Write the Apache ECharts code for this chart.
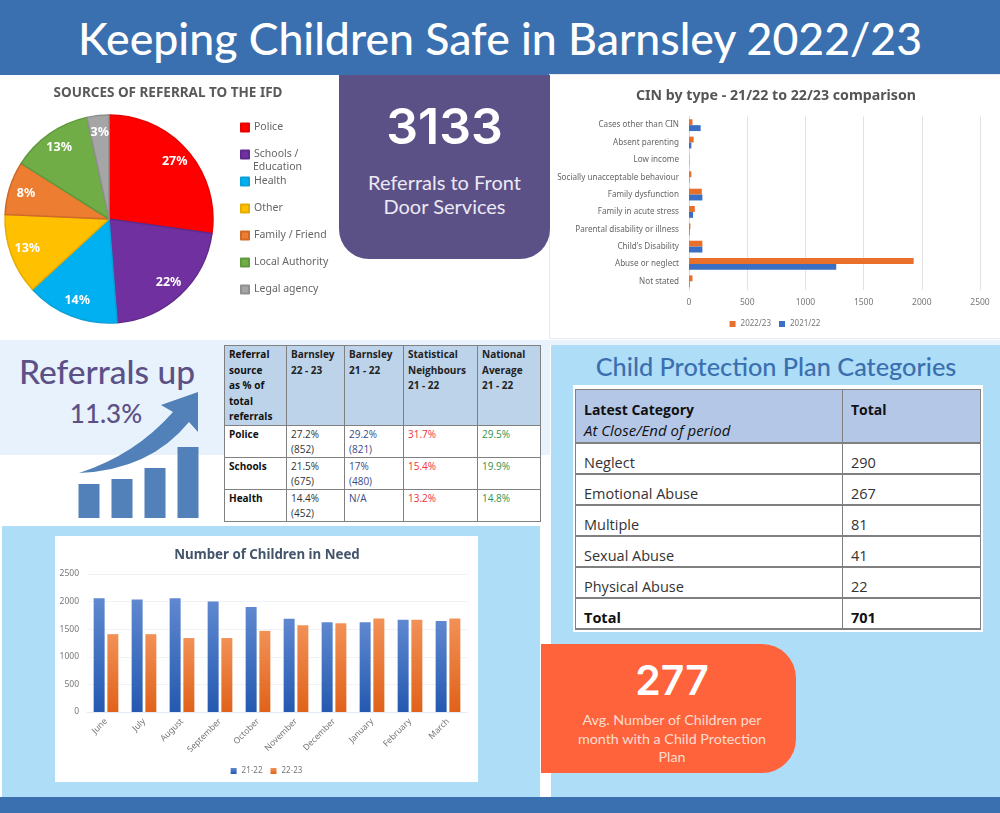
<!DOCTYPE html>
<html>
<head>
<meta charset="utf-8">
<title>Keeping Children Safe in Barnsley 2022/23</title>
<script src="https://cdn.jsdelivr.net/npm/echarts@6/dist/echarts.min.js"></script>
<style>
html, body { margin: 0; padding: 0; background: #fff; }
#page { position: relative; width: 1000px; height: 813px; overflow: hidden; font-family: "Noto Sans", sans-serif; }
.abs { position: absolute; }
.head { font-family: Lato, sans-serif; text-align: center; white-space: nowrap; }
.num { font-family: Inter, sans-serif; font-weight: 600; }
table { border-collapse: collapse; table-layout: fixed; position: absolute; font-family: "Open Sans", sans-serif; }
td { border: 1px solid #808080; box-sizing: border-box; overflow: hidden; }
#refTable td { font-size: 10px; line-height: 15px; padding: 1px 4px 0 4px; vertical-align: top; color: #333; }
#refTable tr:first-child td { background: #bdd3ea; font-weight: 700; color: #222; line-height: 15.6px; }
#refTable tr td:first-child { font-weight: 700; color: #111; }
#cppTable td { font-size: 14.5px; padding: 0 0 1px 8px; vertical-align: bottom; color: #333; line-height: 19px; border-width: 1px 1px 2px 1px; }
#cppTable tr:first-child td { background: #b4c7e7; color: #111; font-weight: 700; font-size: 14px; line-height: 21px; vertical-align: top; padding-top: 9px; }
#cppTable tr:last-child td { font-weight: 700; color: #111; }
</style>
</head>
<body>
<div id="page">
  <div class="abs" style="left:0;top:0;width:1000px;height:75px;background:#3a6fb0"></div>
  <div class="abs head" style="left:0;top:11px;width:1000px;color:#fff;font-size:44.6px;line-height:54px;font-weight:500;">Keeping Children Safe in Barnsley 2022/23</div>

  <div class="abs" style="left:0;top:340px;width:1000px;height:5px;background:#eaf3fc"></div>
  <div class="abs" style="left:0;top:340px;width:550px;height:115px;background:#e8f2fc"></div>
  <div class="abs" style="left:2px;top:526px;width:538px;height:271px;background:#aeddf7"></div>
  <div class="abs" style="left:551px;top:345px;width:449px;height:452px;background:#aeddf7"></div>
  <div class="abs" style="left:0;top:797px;width:1000px;height:16px;background:#3a6fb0"></div>

  <div id="pie" class="abs" style="left:0;top:75px;width:339px;height:265px"></div>
  <div id="cin" class="abs" style="left:550px;top:75px;width:450px;height:263px;box-shadow:0 0 0 1px #e6e9ef"></div>

  <div class="abs" style="left:339px;top:75px;width:211px;height:184px;background:#5c5186;border-radius:0 0 30px 30px"></div>
  <div class="abs head num" style="left:339px;top:90px;width:211px;color:#fff;font-size:50px;line-height:72px;">3133</div>
  <div class="abs head" style="left:339px;top:170px;width:211px;color:#ece9f4;font-size:20px;line-height:24px;">Referrals to Front<br>Door Services</div>

  <div class="abs head" style="left:0;top:350px;width:214px;color:#5c5186;font-size:33.5px;line-height:42px;font-weight:500;">Referrals up</div>
  <div class="abs head" style="left:0;top:394px;width:212px;color:#5c5186;font-size:26px;line-height:38px;font-weight:500;">11.3%</div>
  <div id="icon" class="abs" style="left:70px;top:385px;width:140px;height:140px"></div>
  <svg class="abs" style="left:70px;top:385px" width="140" height="140"><path d="M9 88 Q65 70 103 27 L91 20 L128 7 L128 47 L119 37 Q80 85 9 88 Z" fill="#5280b8"/></svg>
  <table id="refTable" style="left:224px;top:345px;width:316px;background:#fff"></table>

  <div id="need" class="abs" style="left:55px;top:536px;width:423px;height:246px;background:#fff"></div>

  <div class="abs head" style="left:551px;top:349px;width:450px;color:#3a6fb0;font-size:25.3px;line-height:34px;font-weight:500;">Child Protection Plan Categories</div>
  <div class="abs" style="left:573px;top:385px;width:410px;height:247px;background:#fff"></div>
  <table id="cppTable" style="left:575px;top:389px;width:405px;background:#fff"></table>

  <div class="abs" style="left:541px;top:644px;width:255px;height:129px;background:#fe633c;border-radius:0 34px 34px 0"></div>
  <div class="abs head num" style="left:541px;top:650px;width:262px;color:#fff;font-size:41px;line-height:60px;">277</div>
  <div class="abs head" style="left:541px;top:711px;width:262px;color:#fddccf;font-size:14.3px;line-height:18.5px;">Avg. Number of Children per<br>month with a Child Protection<br>Plan</div>
</div>

<script>
// sources of referral pie
var sourceNames = ['Police', 'Schools / Education', 'Health', 'Other', 'Family / Friend', 'Local Authority', 'Legal agency'];
var sourceValues = [27.2, 21.5, 14.4, 12.5, 8.3, 12.6, 3.4];
var sourceColors = ['#ff0000', '#7030a0', '#00b0f0', '#ffc000', '#ed7d31', '#70ad47', '#a5a5a5'];
var sourceBorders = ['#e60000', '#5f2a8c', '#0aa0d8', '#e6ac00', '#d06a28', '#5f9a3c', '#8f8f8f'];

// CIN by type
var cinTypes = ['Cases other than CIN', 'Absent parenting', 'Low income', 'Socially unacceptable behaviour', 'Family dysfunction', 'Family in acute stress', 'Parental disability or illness', "Child's Disability", 'Abuse or neglect', 'Not stated'];
var cin2223 = [30, 40, 2, 20, 110, 50, 12, 115, 1930, 30];
var cin2122 = [100, 20, 2, 3, 115, 35, 5, 115, 1265, 5];

// number of children in need
var months = ['June', 'July', 'August', 'September', 'October', 'November', 'December', 'January', 'February', 'March'];
var need2122 = [2060, 2040, 2060, 2000, 1900, 1690, 1625, 1625, 1670, 1650];
var need2223 = [1410, 1410, 1340, 1340, 1470, 1570, 1610, 1695, 1670, 1695];

// little bars under the arrow
var iconBars = [34, 39, 50, 71];

// tables
var refHeader = ['Referral<br>source<br>as % of<br>total<br>referrals', 'Barnsley<br>22 - 23', 'Barnsley<br>21 - 22', 'Statistical<br>Neighbours<br>21 - 22', 'National<br>Average<br>21 - 22'];
var refRows = [
    ['Police', '27.2%<br>(852)', '29.2%<br>(821)', '31.7%', '29.5%'],
    ['Schools', '21.5%<br>(675)', '17%<br>(480)', '15.4%', '19.9%'],
    ['Health', '14.4%<br>(452)', 'N/A', '13.2%', '14.8%']
];
var refColWidths = [62, 58, 59, 74, 63];
var refTextColors = ['#111', '#333', '#3a4a8a', '#f0303c', '#2e9450'];
var cppCategories = ['Neglect', 'Emotional Abuse', 'Multiple', 'Sexual Abuse', 'Physical Abuse', 'Total'];
var cppTotals = [290, 267, 81, 41, 22, 701];

function plainTick(v) {
    return String(v);
}

function fillTables() {
    var html = '<colgroup>' + refColWidths.map(function (w) { return '<col style="width:' + w + 'px">'; }).join('') + '</colgroup>';
    html += '<tr style="height:80px">' + refHeader.map(function (t) { return '<td>' + t + '</td>'; }).join('') + '</tr>';
    refRows.forEach(function (row) {
        html += '<tr style="height:32px">' + row.map(function (t, i) {
            return '<td style="color:' + refTextColors[i] + '">' + t + '</td>';
        }).join('') + '</tr>';
    });
    document.getElementById('refTable').innerHTML = html;

    var cpp = '<colgroup><col style="width:267px"><col style="width:138px"></colgroup>';
    cpp += '<tr style="height:53px"><td>Latest Category<br><i style="font-weight:400;font-size:15px">At Close/End of period</i></td><td>Total</td></tr>';
    cppCategories.forEach(function (c, i) {
        cpp += '<tr style="height:31px"><td>' + c + '</td><td>' + cppTotals[i] + '</td></tr>';
    });
    document.getElementById('cppTable').innerHTML = cpp;
}
fillTables();

var pieChart = echarts.init(document.getElementById('pie'));
var pieData = sourceNames.map(function (n, i) {
    return {
        name: n,
        value: sourceValues[i],
        itemStyle: { color: sourceColors[i], borderColor: sourceBorders[i], borderWidth: 1.5 }
    };
});
pieChart.setOption({
    animation: false,
    title: {
        text: 'SOURCES OF REFERRAL TO THE IFD',
        left: 163,
        top: 6,
        textAlign: 'center',
        textStyle: { fontFamily: 'Noto Sans', fontSize: 13.5, fontWeight: 'bold', color: '#595959' }
    },
    legend: {
        orient: 'vertical',
        left: 235,
        top: 42,
        itemWidth: 8,
        itemHeight: 8,
        itemGap: 16,
        icon: 'rect',
        data: sourceNames,
        formatter: function (name) { return name.replace(' Education', ''); },
        textStyle: { fontFamily: 'Noto Sans', fontSize: 10.5, color: '#666' }
    },
    graphic: [{
        type: 'text',
        left: 253,
        top: 87,
        style: { text: 'Education', fontFamily: 'Noto Sans', fontSize: 10.5, fill: '#666' }
    }],
    series: [{
        type: 'pie',
        center: [109, 144],
        radius: [0, 104],
        startAngle: 90,
        clockwise: true,
        silent: true,
        label: { show: false },
        labelLine: { show: false },
        data: pieData
    }, {
        // transparent ring, only here to hold the percent labels further out
        type: 'pie',
        center: [109, 144],
        radius: [64, 104],
        startAngle: 90,
        silent: true,
        itemStyle: { color: 'transparent' },
        label: {
            position: 'inner',
            formatter: function (p) { return Math.round(p.value) + '%'; },
            fontFamily: 'Noto Sans',
            fontSize: 12.5,
            fontWeight: 'bold',
            color: '#fff'
        },
        data: sourceNames.map(function (n, i) { return { name: n, value: sourceValues[i] }; })
    }]
});

var cinChart = echarts.init(document.getElementById('cin'));
cinChart.setOption({
    animation: false,
    backgroundColor: '#fff',
    title: {
        text: 'CIN by type - 21/22 to 22/23 comparison',
        left: 221,
        top: 9,
        textAlign: 'center',
        textStyle: { fontFamily: 'Noto Sans', fontSize: 14.2, fontWeight: 'bold', color: '#555' }
    },
    legend: {
        left: 'center',
        top: 240,
        itemWidth: 6,
        itemHeight: 6,
        itemGap: 8,
        icon: 'rect',
        textStyle: { fontFamily: 'Noto Sans', fontSize: 8, color: '#777' }
    },
    grid: { left: 139, right: 20, top: 41.5, bottom: 48 },
    xAxis: {
        type: 'value',
        min: 0,
        max: 2500,
        interval: 500,
        axisLine: { show: false },
        axisTick: { show: false },
        axisLabel: { fontFamily: 'Noto Sans', fontSize: 8.5, color: '#777', margin: 8, formatter: plainTick },
        splitLine: { lineStyle: { color: '#e2e2e2' } }
    },
    yAxis: {
        type: 'category',
        inverse: true,
        data: cinTypes,
        axisLine: { lineStyle: { color: '#d9d9d9' } },
        axisTick: { show: false },
        axisLabel: { fontFamily: 'Noto Sans', fontSize: 8.1, color: '#666', margin: 10 }
    },
    series: [{
        name: '2022/23',
        type: 'bar',
        data: cin2223,
        barGap: 0,
        barCategoryGap: '32%',
        itemStyle: { color: '#e8702a' }
    }, {
        name: '2021/22',
        type: 'bar',
        data: cin2122,
        itemStyle: { color: '#3a6fc4' }
    }]
});

function vGrad(top, bottom) {
    return new echarts.graphic.LinearGradient(0, 0, 0, 1, [{ offset: 0, color: top }, { offset: 1, color: bottom }]);
}

var needChart = echarts.init(document.getElementById('need'));
needChart.setOption({
    animation: false,
    title: {
        text: 'Number of Children in Need',
        left: 207,
        top: 8,
        textAlign: 'center',
        textStyle: { fontFamily: 'Noto Sans', fontSize: 13.3, fontWeight: 'bold', color: '#44546a' }
    },
    legend: {
        left: 'center',
        top: 226,
        itemWidth: 6,
        itemHeight: 6,
        itemGap: 8,
        icon: 'rect',
        textStyle: { fontFamily: 'Noto Sans', fontSize: 8, color: '#777' }
    },
    grid: { left: 32, right: 11, top: 38, bottom: 70 },
    xAxis: {
        type: 'category',
        data: months,
        axisLine: { lineStyle: { color: '#e4ebf2' } },
        axisTick: { show: false },
        axisLabel: { fontFamily: 'Noto Sans', fontSize: 8.5, color: '#777', rotate: 45, margin: 8, interval: 0 }
    },
    yAxis: {
        type: 'value',
        min: 0,
        max: 2500,
        interval: 500,
        axisLine: { show: false },
        axisTick: { show: false },
        axisLabel: { fontFamily: 'Noto Sans', fontSize: 8.5, color: '#777', margin: 8, formatter: plainTick },
        splitLine: { lineStyle: { color: '#eef3f7' } }
    },
    series: [{
        name: '21-22',
        type: 'bar',
        data: need2122,
        barGap: '25%',
        barCategoryGap: '35%',
        itemStyle: { color: vGrad('#5f88d0', '#2459b0') }
    }, {
        name: '22-23',
        type: 'bar',
        data: need2223,
        itemStyle: { color: vGrad('#f29156', '#e0621a') }
    }]
});

var iconChart = echarts.init(document.getElementById('icon'));
iconChart.setOption({
    animation: false,
    grid: { left: 2.5, right: 5.5, top: 7, bottom: 7 },
    xAxis: { type: 'category', show: false, data: iconBars.map(function (v, i) { return i; }) },
    yAxis: { type: 'value', show: false, min: 0, max: 126 },
    series: [{
        type: 'bar',
        data: iconBars,
        barWidth: 21,
        silent: true,
        itemStyle: { color: '#5280b8' }
    }]
});
</script>
</body>
</html>
